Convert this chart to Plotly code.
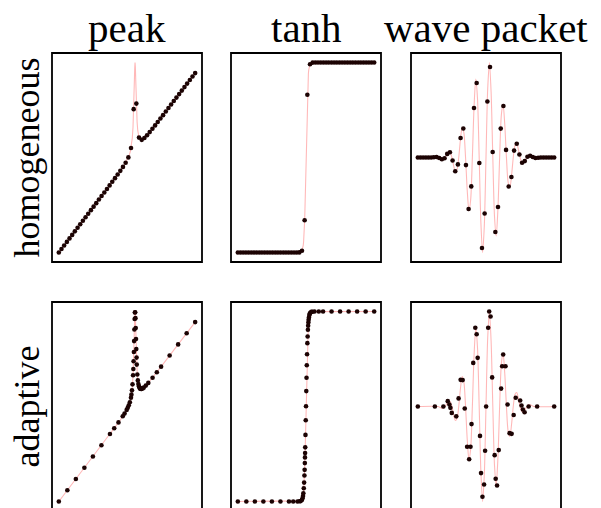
import plotly.graph_objects as go

# ---------------------------------------------------------------- data
# homogeneous sampling grid (52 points on [-1, 1])
x_hom = [-1.000, -0.961, -0.922, -0.882, -0.843, -0.804, -0.765, -0.725, -0.686, -0.647,
         -0.608, -0.569, -0.529, -0.490, -0.451, -0.412, -0.373, -0.333, -0.294, -0.255,
         -0.216, -0.176, -0.137, -0.098, -0.059, -0.020, 0.020, 0.059, 0.098, 0.137,
         0.176, 0.216, 0.255, 0.294, 0.333, 0.373, 0.412, 0.451, 0.490, 0.529,
         0.569, 0.608, 0.647, 0.686, 0.725, 0.765, 0.804, 0.843, 0.882, 0.922,
         0.961, 1.000]

peak_hom = [-1.000, -0.961, -0.922, -0.882, -0.843, -0.804, -0.764, -0.724, -0.685, -0.646,
            -0.607, -0.568, -0.528, -0.489, -0.450, -0.410, -0.371, -0.331, -0.292, -0.252,
            -0.212, -0.171, -0.131, -0.090, -0.046, 0.001, 0.060, 0.165, 0.598, 0.660,
            0.281, 0.256, 0.276, 0.307, 0.342, 0.379, 0.417, 0.455, 0.493, 0.531,
            0.571, 0.610, 0.649, 0.688, 0.727, 0.766, 0.805, 0.844, 0.883, 0.923,
            0.962, 1.000]

tanh_hom = [-1.0, -1.0, -1.0, -1.0, -1.0, -1.0, -1.0, -1.0, -1.0, -1.0,
            -1.0, -1.0, -1.0, -1.0, -1.0, -1.0, -1.0, -1.0, -1.0, -1.0,
            -1.0, -1.0, -1.0, -0.999, -0.982, -0.660, 0.660, 0.982, 0.999, 1.0,
            1.0, 1.0, 1.0, 1.0, 1.0, 1.0, 1.0, 1.0, 1.0, 1.0,
            1.0, 1.0, 1.0, 1.0, 1.0, 1.0, 1.0, 1.0, 1.0, 1.0,
            1.0, 1.0]

wave_hom = [0.0, 0.0, 0.0, 0.0, 0.0, 0.0, 0.003, 0.005, -0.005, -0.018,
            -0.007, 0.037, 0.054, -0.031, -0.141, -0.071, 0.200, 0.298, -0.078, -0.529,
            -0.297, 0.508, 0.766, -0.057, -0.930, -0.576, 0.576, 0.930, 0.057, -0.766,
            -0.508, 0.297, 0.529, 0.078, -0.298, -0.200, 0.071, 0.141, 0.031, -0.054,
            -0.037, 0.007, 0.018, 0.005, -0.005, -0.003, 0.0, 0.0, 0.0, 0.0,
            0.0, 0.0]

# adaptive sampling
peak_ad_x = [-1.0, -0.875, -0.75, -0.625, -0.5, -0.375, -0.25, -0.1875, -0.125, -0.0625,
             -0.036, -0.005, 0.011, 0.026, 0.042, 0.058, 0.065, 0.073, 0.081, 0.089,
             0.093, 0.097, 0.101, 0.104, 0.108, 0.112, 0.116, 0.120, 0.124, 0.128,
             0.132, 0.136, 0.140, 0.143, 0.151, 0.159, 0.167, 0.175, 0.183, 0.190,
             0.198, 0.206, 0.214, 0.229, 0.245, 0.276, 0.3125, 0.375, 0.4375, 0.5,
             0.625, 0.75, 0.875, 1.0]
peak_ad_y = [-1.0, -0.874, -0.749, -0.623, -0.499, -0.373, -0.247, -0.183, -0.118, -0.050,
             -0.020, 0.021, 0.044, 0.072, 0.106, 0.156, 0.191, 0.239, 0.306, 0.407,
             0.477, 0.563, 0.667, 0.788, 0.918, 1.034, 1.107, 1.110, 1.044, 0.934,
             0.812, 0.699, 0.604, 0.526, 0.416, 0.350, 0.310, 0.286, 0.270, 0.261,
             0.257, 0.255, 0.256, 0.261, 0.269, 0.292, 0.322, 0.380, 0.441, 0.503,
             0.627, 0.751, 0.876, 1.0]

tanh_ad_x = [-1.0, -0.875, -0.75, -0.625, -0.5, -0.375, -0.25, -0.1875, -0.125, -0.094,
             -0.078, -0.0603, -0.0507, -0.0439, -0.0388, -0.0324, -0.0275, -0.0231, -0.0201, -0.0172,
             -0.0150, -0.0134, -0.0115, -0.0077, -0.0037, 0.0001, 0.0041, 0.0078, 0.0116, 0.0155,
             0.0201, 0.0236, 0.0280, 0.0314, 0.0350, 0.0386, 0.0430, 0.0497, 0.0550, 0.0625,
             0.078, 0.094, 0.125, 0.1875, 0.25, 0.375, 0.5, 0.625, 0.75, 0.875,
             1.0]
tanh_ad_y = [-1.0, -1.0, -1.0, -1.0, -1.0, -1.0, -1.0, -1.0, -1.0, -0.998,
             -0.996, -0.984, -0.966, -0.942, -0.914, -0.861, -0.801, -0.727, -0.667, -0.596,
             -0.536, -0.490, -0.430, -0.299, -0.145, 0.003, 0.162, 0.303, 0.434, 0.550,
             0.667, 0.737, 0.808, 0.850, 0.885, 0.913, 0.938, 0.963, 0.976, 0.987,
             0.996, 0.998, 1.0, 1.0, 1.0, 1.0, 1.0, 1.0, 1.0, 1.0,
             1.0]

wave_ad_x = [-1.0, -0.75, -0.625, -0.561, -0.537, -0.522, -0.502, -0.436, -0.402, -0.372,
             -0.342, -0.312, -0.277, -0.247, -0.227, -0.212, -0.187, -0.157, -0.137, -0.122,
             -0.088, -0.073, -0.052, -0.028, -0.013, 0.002, 0.032, 0.047, 0.067, 0.090,
             0.127, 0.142, 0.162, 0.187, 0.222, 0.237, 0.252, 0.286, 0.316, 0.346,
             0.376, 0.406, 0.436, 0.501, 0.521, 0.541, 0.566, 0.625, 0.75, 1.0]
wave_ad_y = [0.0, 0.0, 0.0, 0.055, 0.021, -0.014, -0.066, -0.101, 0.083, 0.274,
             0.271, -0.021, -0.413, -0.542, -0.413, -0.181, 0.448, 0.809, 0.743, 0.500,
             -0.302, -0.684, -0.927, -0.802, -0.455, 0.0, 0.809, 0.976, 0.924, 0.299,
             -0.500, -0.743, -0.812, -0.448, 0.184, 0.413, 0.535, 0.413, 0.021, -0.274,
             -0.281, -0.087, 0.090, 0.062, 0.010, -0.031, -0.059, 0.0, 0.0, 0.0]

# reference curves drawn underneath the samples
peak_curve_x = [-1.0, -0.5, -0.2, -0.1, -0.052, -0.002, 0.028, 0.048, 0.068, 0.078,
                0.088, 0.093, 0.098, 0.103, 0.108, 0.113, 0.118, 0.123, 0.128, 0.133,
                0.138, 0.143, 0.148, 0.158, 0.168, 0.178, 0.188, 0.198, 0.208, 0.218,
                0.248, 0.298, 0.498, 1.0]
peak_curve_y = [-1.0, -0.501, -0.198, -0.094, -0.038, 0.025, 0.075, 0.123, 0.206, 0.278,
                0.396, 0.483, 0.598, 0.743, 0.908, 1.054, 1.118, 1.064, 0.928, 0.773,
                0.638, 0.533, 0.456, 0.358, 0.306, 0.278, 0.263, 0.257, 0.255, 0.256,
                0.271, 0.310, 0.501, 1.0]

tanh_curve_x = [-1.0, -0.1, -0.08, -0.07, -0.06, -0.05, -0.04, -0.035, -0.03, -0.025,
                -0.02, -0.015, -0.01, -0.005, 0.0, 0.005, 0.01, 0.015, 0.02, 0.025,
                0.03, 0.035, 0.04, 0.05, 0.06, 0.07, 0.08, 0.1, 1.0]
tanh_curve_y = [-1.0, -0.999, -0.997, -0.993, -0.984, -0.964, -0.922, -0.885, -0.834, -0.762,
                -0.664, -0.537, -0.380, -0.197, 0.0, 0.197, 0.380, 0.537, 0.664, 0.762,
                0.834, 0.885, 0.922, 0.964, 0.984, 0.993, 0.997, 0.999, 1.0]

wave_curve_x = [-1.0, -0.7, -0.675, -0.65, -0.625, -0.6, -0.575, -0.55, -0.525, -0.5,
                -0.475, -0.45, -0.425, -0.4, -0.375, -0.35, -0.325, -0.3, -0.275, -0.25,
                -0.225, -0.2, -0.175, -0.15, -0.125, -0.1, -0.075, -0.05, -0.025, 0.0,
                0.025, 0.05, 0.075, 0.1, 0.125, 0.15, 0.175, 0.2, 0.225, 0.25,
                0.275, 0.3, 0.325, 0.35, 0.375, 0.4, 0.425, 0.45, 0.475, 0.5,
                0.525, 0.55, 0.575, 0.6, 0.625, 0.65, 0.675, 0.7, 1.0]
wave_curve_y = [0.0, 0.0, -0.009, -0.017, -0.017, 0.0, 0.029, 0.055, 0.050, 0.0,
                -0.081, -0.143, -0.124, 0.0, 0.183, 0.308, 0.256, 0.0, -0.341, -0.548,
                -0.435, 0.0, 0.527, 0.805, 0.608, 0.0, -0.670, -0.976, -0.703, 0.0,
                0.703, 0.976, 0.670, 0.0, -0.608, -0.805, -0.527, 0.0, 0.435, 0.548,
                0.341, 0.0, -0.256, -0.308, -0.183, 0.0, 0.124, 0.143, 0.081, 0.0,
                -0.050, -0.055, -0.029, 0.0, 0.017, 0.017, 0.009, 0.0, 0.0]

col_titles = ["peak", "tanh", "wave packet"]
row_titles = ["homogeneous", "adaptive"]

# ---------------------------------------------------------------- layout
W, H = 601, 508
PINK = "rgba(255, 0, 0, 0.28)"
DOT = "#1c0303"
FONT = "Liberation Serif"

col_px = [(52, 202), (231, 381), (411, 561)]   # left/right frame edges
row_px = [(53, 262), (302, 511)]                # top/bottom frame edges

panels = [
    [(x_hom, peak_hom, peak_curve_x, peak_curve_y, "linear"),
     (x_hom, tanh_hom, tanh_curve_x, tanh_curve_y, "linear"),
     (x_hom, wave_hom, wave_curve_x, wave_curve_y, "spline")],
    [(peak_ad_x, peak_ad_y, peak_curve_x, peak_curve_y, "linear"),
     (tanh_ad_x, tanh_ad_y, tanh_curve_x, tanh_curve_y, "linear"),
     (wave_ad_x, wave_ad_y, wave_curve_x, wave_curve_y, "spline")],
]

fig = go.Figure()
layout = {}
shapes = []
for r in range(2):
    for c in range(3):
        n = r * 3 + c + 1
        sfx = "" if n == 1 else str(n)
        sx, sy, cx, cy, shape = panels[r][c]
        fig.add_trace(go.Scatter(x=cx, y=cy, mode="lines",
                                 line=dict(color=PINK, width=1.1, shape=shape, smoothing=0.8),
                                 xaxis="x" + sfx, yaxis="y" + sfx, hoverinfo="skip"))
        fig.add_trace(go.Scatter(x=sx, y=sy, mode="markers",
                                 marker=dict(color=DOT, size=4.6, line=dict(width=0)),
                                 xaxis="x" + sfx, yaxis="y" + sfx))

        # 5 % margins around everything drawn in the panel
        xs = list(sx) + list(cx)
        ys = list(sy) + list(cy)
        xlo, xhi = min(xs), max(xs)
        ylo, yhi = min(ys), max(ys)
        xp = 0.05 * (xhi - xlo)
        yp = 0.05 * (yhi - ylo)
        xlo, xhi = xlo - xp, xhi + xp
        ylo, yhi = ylo - yp, yhi + yp

        left, right = col_px[c]
        top, bottom = row_px[r]
        vis_bottom = min(bottom, H)
        frac = (vis_bottom - top) / (bottom - top)

        layout["xaxis" + sfx] = dict(domain=[left / W, right / W], range=[xlo, xhi],
                                     visible=False, anchor="y" + sfx, fixedrange=True)
        layout["yaxis" + sfx] = dict(domain=[1 - vis_bottom / H, 1 - top / H],
                                     range=[yhi - (yhi - ylo) * frac, yhi],
                                     visible=False, anchor="x" + sfx, fixedrange=True)
        shapes.append(dict(type="rect", xref="paper", yref="paper",
                           x0=left / W, x1=right / W, y0=1 - bottom / H, y1=1 - top / H,
                           line=dict(color="black", width=1.8), fillcolor="rgba(0,0,0,0)",
                           layer="above"))

annotations = []
for c, t in enumerate(col_titles):
    left, right = col_px[c]
    annotations.append(dict(text=t, xref="paper", yref="paper",
                            x=(left + right) / 2 / W, y=1 - 28 / H,
                            xanchor="center", yanchor="middle", showarrow=False,
                            font=dict(family=FONT, size=41, color="black")))
for r, t in enumerate(row_titles):
    top, bottom = row_px[r]
    annotations.append(dict(text=t, xref="paper", yref="paper",
                            x=26 / W, y=1 - (top + bottom) / 2 / H,
                            xanchor="center", yanchor="middle", textangle=-90,
                            showarrow=False,
                            font=dict(family=FONT, size=36, color="black")))

fig.update_layout(width=W, height=H, margin=dict(l=0, r=0, t=0, b=0),
                  paper_bgcolor="white", plot_bgcolor="white",
                  showlegend=False, shapes=shapes, annotations=annotations, **layout)

fig.write_html("out.html")
